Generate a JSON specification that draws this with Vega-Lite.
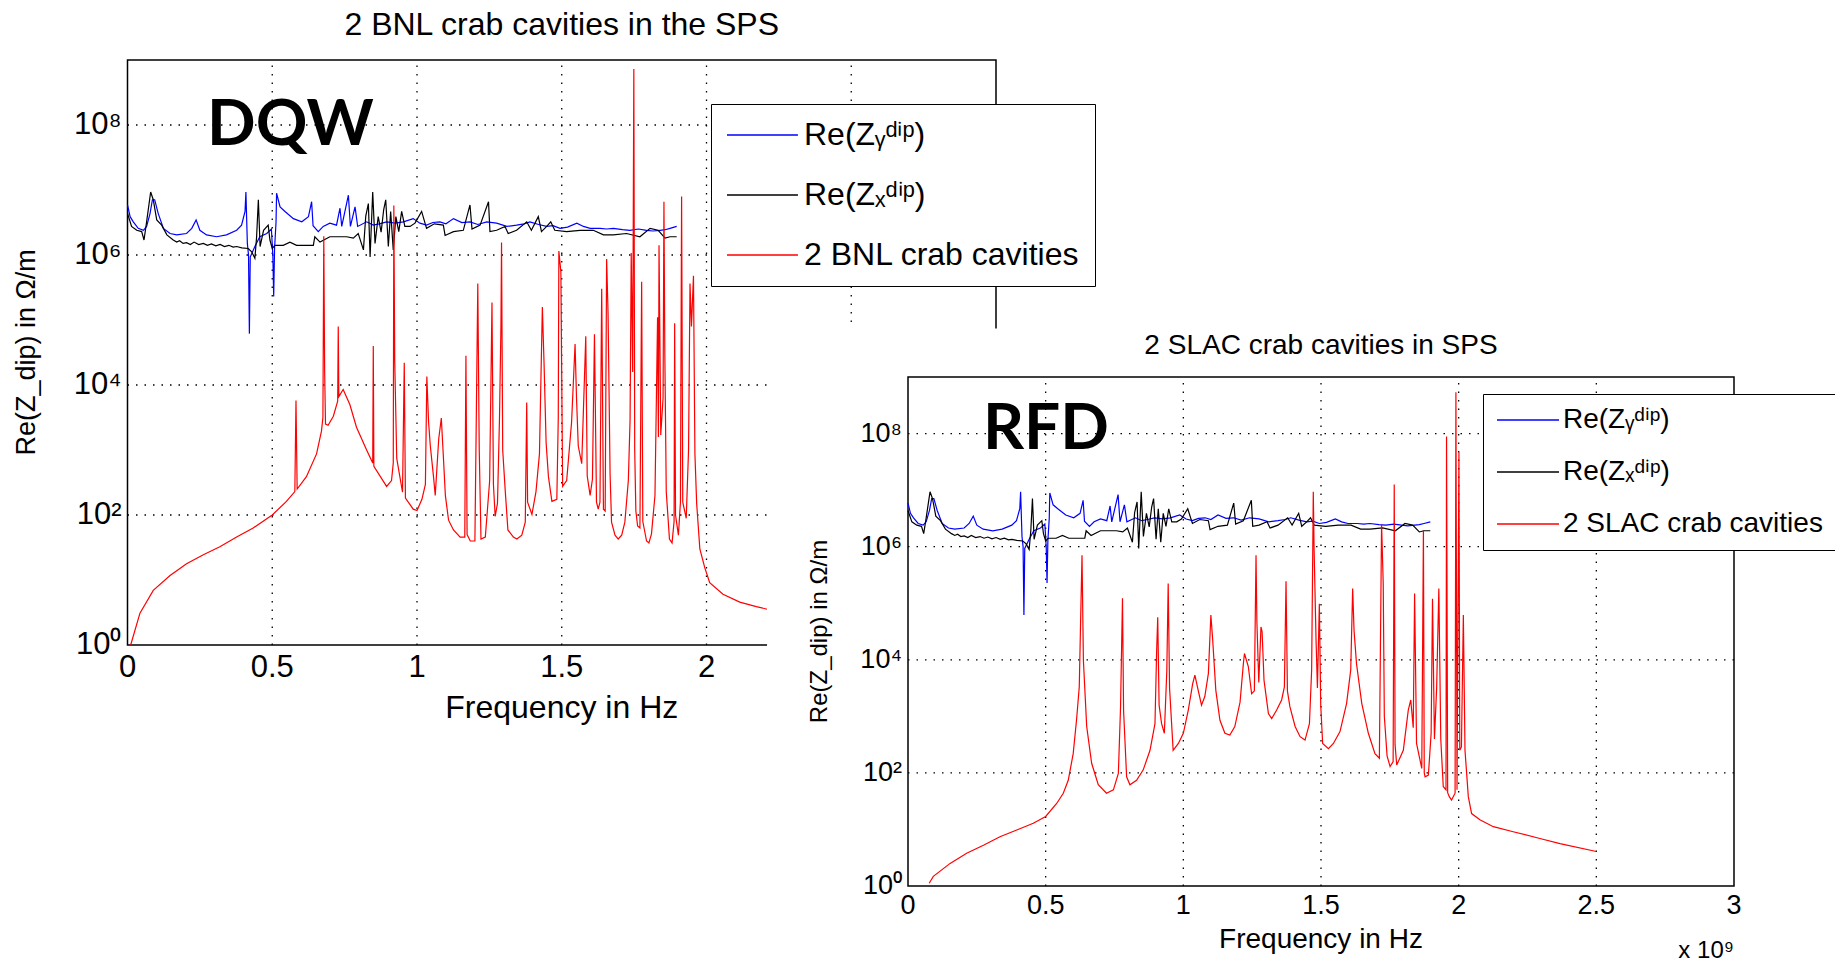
{
"$schema": "https://vega.github.io/schema/vega-lite/v6.json",
"width": 1835, "height": 964,
"autosize": {"type": "none"},
"padding": 0,
"background": "white",
"config": {"view": {"stroke": null}, "font": "Liberation Sans"},
"datasets": {
"xgrid": [{"f": 0.5e9}, {"f": 1.0e9}, {"f": 1.5e9}, {"f": 2.0e9}, {"f": 2.5e9}],
"ygrid": [{"z": 100}, {"z": 1e4}, {"z": 1e6}, {"z": 1e8}],
"xticks": [{"f":0,"label":"0"},{"f":0.5e9,"label":"0.5"},{"f":1e9,"label":"1"},{"f":1.5e9,"label":"1.5"},{"f":2e9,"label":"2"},{"f":2.5e9,"label":"2.5"},{"f":3e9,"label":"3"}],
"yticks": [{"z":1,"label":"10⁰"},{"z":100,"label":"10²"},{"z":1e4,"label":"10⁴"},{"z":1e6,"label":"10⁶"},{"z":1e8,"label":"10⁸"}],
"zy": [
{"f":0,"z":5.89e6},{"f":0.009e9,"z":3.89e6},{"f":0.02e9,"z":3.24e6},{"f":0.037e9,"z":2.57e6},{"f":0.055e9,"z":2.40e6},{"f":0.066e9,"z":2.75e6},{"f":0.078e9,"z":4.37e6},{"f":0.086e9,"z":7.08e6},{"f":0.094e9,"z":7.08e6},{"f":0.106e9,"z":4.37e6},{"f":0.124e9,"z":2.57e6},{"f":0.147e9,"z":2.14e6},{"f":0.170e9,"z":2.04e6},{"f":0.204e9,"z":2.14e6},{"f":0.222e9,"z":2.57e6},{"f":0.237e9,"z":3.47e6},{"f":0.250e9,"z":2.40e6},{"f":0.273e9,"z":2.04e6},{"f":0.308e9,"z":1.91e6},{"f":0.342e9,"z":2.04e6},{"f":0.377e9,"z":2.40e6},{"f":0.394e9,"z":2.88e6},{"f":0.406e9,"z":4.68e6},{"f":0.409e9,"z":9.33e6},{"f":0.414e9,"z":1.51e6},{"f":0.418e9,"z":1.0e6},{"f":0.421e9,"z":6.17e4},{"f":0.424e9,"z":9.33e5},{"f":0.440e9,"z":1.35e6},{"f":0.457e9,"z":1.91e6},{"f":0.481e9,"z":2.14e6},{"f":0.497e9,"z":2.51e6},{"f":0.502e9,"z":1.0e6},{"f":0.505e9,"z":2.29e5},{"f":0.508e9,"z":1.26e6},{"f":0.513e9,"z":3.16e6},{"f":0.515e9,"z":8.91e6},{"f":0.527e9,"z":5.50e6},{"f":0.544e9,"z":4.68e6},{"f":0.573e9,"z":3.63e6},{"f":0.602e9,"z":3.24e6},{"f":0.625e9,"z":3.89e6},{"f":0.636e9,"z":6.61e6},{"f":0.641e9,"z":2.82e6},{"f":0.659e9,"z":2.29e6},{"f":0.676e9,"z":2.75e6},{"f":0.699e9,"z":3.09e6},{"f":0.722e9,"z":2.88e6},{"f":0.734e9,"z":5.25e6},{"f":0.740e9,"z":2.75e6},{"f":0.763e9,"z":8.32e6},{"f":0.770e9,"z":2.75e6},{"f":0.786e9,"z":5.50e6},{"f":0.795e9,"z":2.75e6},{"f":0.826e9,"z":3.24e6},{"f":0.849e9,"z":2.88e6},{"f":0.870e9,"z":3.02e6},{"f":0.895e9,"z":3.24e6},{"f":0.925e9,"z":3.09e6},{"f":0.953e9,"z":3.24e6},{"f":0.987e9,"z":3.63e6},{"f":1.010e9,"z":3.09e6},{"f":1.033e9,"z":2.88e6},{"f":1.055e9,"z":3.16e6},{"f":1.079e9,"z":3.24e6},{"f":1.100e9,"z":3.02e6},{"f":1.126e9,"z":3.63e6},{"f":1.155e9,"z":3.16e6},{"f":1.183e9,"z":3.24e6},{"f":1.210e9,"z":2.95e6},{"f":1.241e9,"z":3.24e6},{"f":1.275e9,"z":3.09e6},{"f":1.310e9,"z":2.75e6},{"f":1.344e9,"z":2.88e6},{"f":1.370e9,"z":3.02e6},{"f":1.390e9,"z":3.24e6},{"f":1.420e9,"z":2.95e6},{"f":1.448e9,"z":2.75e6},{"f":1.470e9,"z":2.82e6},{"f":1.494e9,"z":2.57e6},{"f":1.520e9,"z":2.69e6},{"f":1.552e9,"z":3.09e6},{"f":1.575e9,"z":2.75e6},{"f":1.598e9,"z":2.57e6},{"f":1.632e9,"z":2.57e6},{"f":1.655e9,"z":2.51e6},{"f":1.678e9,"z":2.57e6},{"f":1.710e9,"z":2.45e6},{"f":1.735e9,"z":2.40e6},{"f":1.765e9,"z":2.51e6},{"f":1.793e9,"z":2.40e6},{"f":1.815e9,"z":2.34e6},{"f":1.840e9,"z":2.40e6},{"f":1.857e9,"z":2.45e6},{"f":1.874e9,"z":2.57e6},{"f":1.897e9,"z":2.75e6}
],
"zx": [
{"f":0,"z":4.37e6},{"f":0.014e9,"z":2.75e6},{"f":0.032e9,"z":2.40e6},{"f":0.049e9,"z":2.29e6},{"f":0.057e9,"z":1.70e6},{"f":0.066e9,"z":3.24e6},{"f":0.080e9,"z":9.33e6},{"f":0.089e9,"z":7.08e6},{"f":0.101e9,"z":3.47e6},{"f":0.118e9,"z":2.88e6},{"f":0.136e9,"z":2.04e6},{"f":0.158e9,"z":1.70e6},{"f":0.170e9,"z":1.58e6},{"f":0.180e9,"z":1.66e6},{"f":0.192e9,"z":1.51e6},{"f":0.204e9,"z":1.55e6},{"f":0.217e9,"z":1.45e6},{"f":0.230e9,"z":1.58e6},{"f":0.246e9,"z":1.45e6},{"f":0.262e9,"z":1.51e6},{"f":0.276e9,"z":1.41e6},{"f":0.290e9,"z":1.48e6},{"f":0.305e9,"z":1.38e6},{"f":0.320e9,"z":1.45e6},{"f":0.335e9,"z":1.35e6},{"f":0.350e9,"z":1.41e6},{"f":0.365e9,"z":1.32e6},{"f":0.377e9,"z":1.35e6},{"f":0.395e9,"z":1.29e6},{"f":0.417e9,"z":1.26e6},{"f":0.429e9,"z":1.12e6},{"f":0.440e9,"z":8.91e5},{"f":0.446e9,"z":1.91e6},{"f":0.452e9,"z":7.08e6},{"f":0.458e9,"z":1.35e6},{"f":0.470e9,"z":2.40e6},{"f":0.486e9,"z":2.88e6},{"f":0.492e9,"z":1.70e6},{"f":0.500e9,"z":1.26e6},{"f":0.509e9,"z":1.41e6},{"f":0.538e9,"z":1.41e6},{"f":0.561e9,"z":1.58e6},{"f":0.584e9,"z":1.41e6},{"f":0.642e9,"z":1.41e6},{"f":0.647e9,"z":1.91e6},{"f":0.665e9,"z":1.58e6},{"f":0.699e9,"z":1.91e6},{"f":0.757e9,"z":1.91e6},{"f":0.780e9,"z":1.82e6},{"f":0.797e9,"z":2.14e6},{"f":0.815e9,"z":1.20e6},{"f":0.823e9,"z":3.98e6},{"f":0.832e9,"z":6.17e6},{"f":0.838e9,"z":9.33e5},{"f":0.847e9,"z":9.33e6},{"f":0.855e9,"z":1.51e6},{"f":0.866e9,"z":3.89e6},{"f":0.876e9,"z":2.24e6},{"f":0.885e9,"z":5.01e6},{"f":0.892e9,"z":7.08e6},{"f":0.901e9,"z":1.35e6},{"f":0.909e9,"z":4.68e6},{"f":0.918e9,"z":1.20e6},{"f":0.927e9,"z":3.89e6},{"f":0.937e9,"z":2.29e6},{"f":0.947e9,"z":4.68e6},{"f":0.958e9,"z":2.75e6},{"f":0.976e9,"z":2.75e6},{"f":0.993e9,"z":3.09e6},{"f":1.016e9,"z":4.68e6},{"f":1.033e9,"z":2.57e6},{"f":1.060e9,"z":3.02e6},{"f":1.091e9,"z":2.88e6},{"f":1.097e9,"z":2.00e6},{"f":1.126e9,"z":2.29e6},{"f":1.160e9,"z":2.40e6},{"f":1.183e9,"z":5.89e6},{"f":1.190e9,"z":2.51e6},{"f":1.218e9,"z":2.88e6},{"f":1.247e9,"z":6.61e6},{"f":1.252e9,"z":2.29e6},{"f":1.275e9,"z":2.40e6},{"f":1.304e9,"z":2.75e6},{"f":1.315e9,"z":2.14e6},{"f":1.344e9,"z":2.40e6},{"f":1.379e9,"z":3.24e6},{"f":1.395e9,"z":2.40e6},{"f":1.419e9,"z":3.89e6},{"f":1.430e9,"z":2.29e6},{"f":1.448e9,"z":2.75e6},{"f":1.462e9,"z":3.24e6},{"f":1.476e9,"z":2.40e6},{"f":1.517e9,"z":2.29e6},{"f":1.563e9,"z":2.40e6},{"f":1.609e9,"z":2.40e6},{"f":1.644e9,"z":2.04e6},{"f":1.678e9,"z":2.04e6},{"f":1.724e9,"z":2.14e6},{"f":1.770e9,"z":1.91e6},{"f":1.805e9,"z":2.57e6},{"f":1.833e9,"z":2.40e6},{"f":1.857e9,"z":1.82e6},{"f":1.874e9,"z":1.91e6},{"f":1.897e9,"z":1.91e6}
],
"bnl": [
{"f":0.011e9,"z":1.0},{"f":0.043e9,"z":3.09},{"f":0.089e9,"z":6.92},{"f":0.147e9,"z":11.7},{"f":0.204e9,"z":17.8},{"f":0.262e9,"z":24.5},{"f":0.319e9,"z":32.4},{"f":0.377e9,"z":45.7},{"f":0.434e9,"z":63.1},{"f":0.5e9,"z":100},{"f":0.549e9,"z":162},{"f":0.578e9,"z":229},{"f":0.582e9,"z":5750},{"f":0.586e9,"z":251},{"f":0.618e9,"z":389},{"f":0.653e9,"z":871},{"f":0.670e9,"z":1950},{"f":0.675e9,"z":3160},{"f":0.678e9,"z":1.95e6},{"f":0.681e9,"z":1.58e4},{"f":0.684e9,"z":2510},{"f":0.693e9,"z":2400},{"f":0.711e9,"z":3310},{"f":0.726e9,"z":5620},{"f":0.728e9,"z":7.94e4},{"f":0.730e9,"z":6610},{"f":0.745e9,"z":8510},{"f":0.768e9,"z":5010},{"f":0.791e9,"z":2240},{"f":0.826e9,"z":1000},{"f":0.847e9,"z":631},{"f":0.849e9,"z":3.98e4},{"f":0.851e9,"z":562},{"f":0.895e9,"z":275},{"f":0.912e9,"z":339},{"f":0.918e9,"z":631},{"f":0.920e9,"z":5.75e6},{"f":0.923e9,"z":2.45e4},{"f":0.930e9,"z":741},{"f":0.950e9,"z":224},{"f":0.956e9,"z":2.19e4},{"f":0.960e9,"z":182},{"f":0.987e9,"z":123},{"f":1.0e9,"z":117},{"f":1.017e9,"z":174},{"f":1.029e9,"z":295},{"f":1.034e9,"z":1.35e4},{"f":1.040e9,"z":2690},{"f":1.046e9,"z":1150},{"f":1.057e9,"z":389},{"f":1.063e9,"z":200},{"f":1.075e9,"z":1480},{"f":1.084e9,"z":3090},{"f":1.092e9,"z":661},{"f":1.098e9,"z":200},{"f":1.109e9,"z":83.2},{"f":1.126e9,"z":58.9},{"f":1.149e9,"z":45.7},{"f":1.165e9,"z":45.7},{"f":1.169e9,"z":2.82e4},{"f":1.173e9,"z":50.1},{"f":1.184e9,"z":39.8},{"f":1.200e9,"z":39.8},{"f":1.210e9,"z":3.63e5},{"f":1.215e9,"z":1000},{"f":1.221e9,"z":42.7},{"f":1.236e9,"z":45.7},{"f":1.251e9,"z":339},{"f":1.259e9,"z":1.86e5},{"f":1.264e9,"z":295},{"f":1.270e9,"z":95.5},{"f":1.278e9,"z":151},{"f":1.285e9,"z":3160},{"f":1.290e9,"z":8.32e4},{"f":1.292e9,"z":1.55e6},{"f":1.296e9,"z":1000},{"f":1.305e9,"z":229},{"f":1.314e9,"z":58.9},{"f":1.333e9,"z":45.7},{"f":1.345e9,"z":42.7},{"f":1.362e9,"z":49.0},{"f":1.374e9,"z":77.6},{"f":1.379e9,"z":5370},{"f":1.382e9,"z":158},{"f":1.397e9,"z":102},{"f":1.411e9,"z":229},{"f":1.423e9,"z":871},{"f":1.433e9,"z":1.58e5},{"f":1.439e9,"z":2.04e4},{"f":1.446e9,"z":1290},{"f":1.454e9,"z":389},{"f":1.466e9,"z":162},{"f":1.483e9,"z":174},{"f":1.488e9,"z":3160},{"f":1.490e9,"z":1.15e6},{"f":1.497e9,"z":5.50e5},{"f":1.503e9,"z":275},{"f":1.517e9,"z":339},{"f":1.534e9,"z":2690},{"f":1.546e9,"z":4.27e4},{"f":1.551e9,"z":6310},{"f":1.557e9,"z":1150},{"f":1.569e9,"z":617},{"f":1.583e9,"z":5.62e4},{"f":1.588e9,"z":398},{"f":1.598e9,"z":200},{"f":1.606e9,"z":355},{"f":1.613e9,"z":6.03e4},{"f":1.620e9,"z":158},{"f":1.626e9,"z":123},{"f":1.632e9,"z":158},{"f":1.638e9,"z":3.02e5},{"f":1.644e9,"z":123},{"f":1.650e9,"z":115},{"f":1.655e9,"z":8.71e5},{"f":1.660e9,"z":1.26e5},{"f":1.667e9,"z":417},{"f":1.672e9,"z":77.6},{"f":1.684e9,"z":49.0},{"f":1.695e9,"z":42.7},{"f":1.707e9,"z":49.0},{"f":1.718e9,"z":77.6},{"f":1.730e9,"z":339},{"f":1.736e9,"z":2880},{"f":1.740e9,"z":1.07e6},{"f":1.745e9,"z":1.58e4},{"f":1.749e9,"z":7.24e8},{"f":1.752e9,"z":1000},{"f":1.756e9,"z":115},{"f":1.762e9,"z":67.6},{"f":1.770e9,"z":63.1},{"f":1.776e9,"z":3.89e5},{"f":1.780e9,"z":79.4},{"f":1.793e9,"z":39.8},{"f":1.801e9,"z":37.2},{"f":1.810e9,"z":51.3},{"f":1.822e9,"z":200},{"f":1.831e9,"z":1.10e5},{"f":1.834e9,"z":1580},{"f":1.836e9,"z":1.41e6},{"f":1.842e9,"z":1700},{"f":1.850e9,"z":6310},{"f":1.853e9,"z":6.61e6},{"f":1.856e9,"z":3.16e4},{"f":1.861e9,"z":229},{"f":1.872e9,"z":42.7},{"f":1.881e9,"z":37.2},{"f":1.888e9,"z":79.4},{"f":1.890e9,"z":8.91e4},{"f":1.893e9,"z":100},{"f":1.903e9,"z":49.0},{"f":1.910e9,"z":158},{"f":1.914e9,"z":7.94e6},{"f":1.918e9,"z":158},{"f":1.930e9,"z":89.1},{"f":1.938e9,"z":1000},{"f":1.943e9,"z":3.63e5},{"f":1.948e9,"z":7.94e4},{"f":1.955e9,"z":4.79e5},{"f":1.960e9,"z":871},{"f":1.966e9,"z":151},{"f":1.977e9,"z":30.2},{"f":1.994e9,"z":15.5},{"f":2.011e9,"z":9.12},{"f":2.057e9,"z":6.03},{"f":2.115e9,"z":4.57},{"f":2.172e9,"z":3.89},{"f":2.21e9,"z":3.55},{"f":2.3e9,"z":3.16},{"f":2.5e9,"z":2.63}
],
"slac": [
{"f":0.077e9,"z":1.12},{"f":0.092e9,"z":1.48},{"f":0.153e9,"z":2.51},{"f":0.213e9,"z":3.80},{"f":0.274e9,"z":5.25},{"f":0.334e9,"z":7.41},{"f":0.395e9,"z":9.77},{"f":0.455e9,"z":12.9},{"f":0.5e9,"z":17.0},{"f":0.54e9,"z":28.8},{"f":0.564e9,"z":43.7},{"f":0.582e9,"z":74.1},{"f":0.600e9,"z":219},{"f":0.612e9,"z":851},{"f":0.622e9,"z":3310},{"f":0.627e9,"z":5.01e4},{"f":0.632e9,"z":7.08e5},{"f":0.637e9,"z":9770},{"f":0.649e9,"z":661},{"f":0.667e9,"z":148},{"f":0.691e9,"z":61.7},{"f":0.721e9,"z":43.7},{"f":0.746e9,"z":50.1},{"f":0.764e9,"z":97.7},{"f":0.772e9,"z":1480},{"f":0.779e9,"z":1.23e5},{"f":0.783e9,"z":1260},{"f":0.794e9,"z":85.1},{"f":0.806e9,"z":61.7},{"f":0.830e9,"z":74.1},{"f":0.854e9,"z":112},{"f":0.879e9,"z":251},{"f":0.897e9,"z":741},{"f":0.903e9,"z":1.38e4},{"f":0.907e9,"z":5.62e4},{"f":0.912e9,"z":1580},{"f":0.921e9,"z":741},{"f":0.931e9,"z":501},{"f":0.940e9,"z":6310},{"f":0.945e9,"z":2.24e5},{"f":0.950e9,"z":3160},{"f":0.963e9,"z":251},{"f":0.982e9,"z":331},{"f":1.0e9,"z":501},{"f":1.018e9,"z":1290},{"f":1.034e9,"z":3800},{"f":1.042e9,"z":5370},{"f":1.054e9,"z":2880},{"f":1.066e9,"z":1580},{"f":1.078e9,"z":2240},{"f":1.091e9,"z":5750},{"f":1.100e9,"z":6.17e4},{"f":1.106e9,"z":2.51e4},{"f":1.118e9,"z":2880},{"f":1.133e9,"z":851},{"f":1.151e9,"z":501},{"f":1.169e9,"z":468},{"f":1.187e9,"z":661},{"f":1.206e9,"z":1780},{"f":1.218e9,"z":8510},{"f":1.222e9,"z":1.29e4},{"f":1.236e9,"z":7590},{"f":1.248e9,"z":2510},{"f":1.258e9,"z":2820},{"f":1.264e9,"z":7.08e5},{"f":1.267e9,"z":5.01e4},{"f":1.274e9,"z":3980},{"f":1.282e9,"z":3.80e4},{"f":1.286e9,"z":3.16e4},{"f":1.293e9,"z":4370},{"f":1.309e9,"z":1120},{"f":1.321e9,"z":912},{"f":1.339e9,"z":1290},{"f":1.357e9,"z":1950},{"f":1.367e9,"z":3310},{"f":1.373e9,"z":2.45e5},{"f":1.378e9,"z":2820},{"f":1.387e9,"z":1480},{"f":1.406e9,"z":661},{"f":1.424e9,"z":437},{"f":1.442e9,"z":380},{"f":1.458e9,"z":741},{"f":1.466e9,"z":6610},{"f":1.472e9,"z":9.33e6},{"f":1.475e9,"z":8.71e5},{"f":1.482e9,"z":2.24e4},{"f":1.487e9,"z":3160},{"f":1.494e9,"z":9.77e4},{"f":1.499e9,"z":1580},{"f":1.506e9,"z":331},{"f":1.527e9,"z":269},{"f":1.545e9,"z":331},{"f":1.569e9,"z":537},{"f":1.593e9,"z":1700},{"f":1.608e9,"z":6610},{"f":1.615e9,"z":1.82e5},{"f":1.620e9,"z":3.31e4},{"f":1.629e9,"z":8510},{"f":1.648e9,"z":1700},{"f":1.672e9,"z":501},{"f":1.696e9,"z":219},{"f":1.712e9,"z":182},{"f":1.720e9,"z":2.51e6},{"f":1.726e9,"z":2.24e5},{"f":1.730e9,"z":1000},{"f":1.740e9,"z":200},{"f":1.751e9,"z":129},{"f":1.762e9,"z":158},{"f":1.766e9,"z":1.26e7},{"f":1.769e9,"z":316},{"f":1.775e9,"z":138},{"f":1.799e9,"z":251},{"f":1.817e9,"z":1290},{"f":1.826e9,"z":1950},{"f":1.835e9,"z":631},{"f":1.840e9,"z":1.48e5},{"f":1.847e9,"z":331},{"f":1.866e9,"z":120},{"f":1.872e9,"z":1.95e6},{"f":1.875e9,"z":100},{"f":1.878e9,"z":85.1},{"f":1.890e9,"z":91.2},{"f":1.900e9,"z":501},{"f":1.905e9,"z":1.20e5},{"f":1.912e9,"z":398},{"f":1.920e9,"z":3160},{"f":1.928e9,"z":1.82e5},{"f":1.935e9,"z":398},{"f":1.944e9,"z":57.5},{"f":1.954e9,"z":50.1},{"f":1.956e9,"z":8.91e7},{"f":1.960e9,"z":44.7},{"f":1.966e9,"z":38.0},{"f":1.974e9,"z":33.1},{"f":1.987e9,"z":43.7},{"f":1.990e9,"z":5.37e8},{"f":1.994e9,"z":50.1},{"f":2.001e9,"z":4.68e7},{"f":2.004e9,"z":251},{"f":2.010e9,"z":288},{"f":2.017e9,"z":6.17e4},{"f":2.023e9,"z":251},{"f":2.035e9,"z":38.0},{"f":2.047e9,"z":19.1},{"f":2.077e9,"z":14.8},{"f":2.126e9,"z":11.2},{"f":2.198e9,"z":9.12},{"f":2.295e9,"z":6.92},{"f":2.368e9,"z":5.62},{"f":2.5e9,"z":4.07}
]
},
"layer": [
{
"layer": [
{"data": {"name": "xgrid"}, "mark": {"type": "rule", "color": "black", "strokeDash": [1.5, 7], "strokeWidth": 1.3},
 "encoding": {"x": {"field": "f", "type": "quantitative", "scale": {"domain": [0, 3e9], "range": [127.5, 996], "nice": false, "zero": false}, "axis": null},
  "y": {"datum": 1, "type": "quantitative", "scale": {"type": "log", "domain": [1, 1e9], "range": [645, 60], "nice": false}, "axis": null}, "y2": {"datum": 1e9}}},
{"data": {"name": "ygrid"}, "mark": {"type": "rule", "color": "black", "strokeDash": [1.5, 7], "strokeWidth": 1.3},
 "encoding": {"y": {"field": "z", "type": "quantitative", "scale": {"type": "log", "domain": [1, 1e9], "range": [645, 60], "nice": false}, "axis": null},
  "x": {"datum": 0, "type": "quantitative", "scale": {"domain": [0, 3e9], "range": [127.5, 996], "nice": false, "zero": false}, "axis": null}, "x2": {"datum": 3e9}}},
{"data": {"values": [{}]}, "mark": {"type": "rect", "filled": false, "color": "black", "strokeWidth": 1.5},
 "encoding": {"x": {"datum": 0, "type": "quantitative", "scale": {"domain": [0, 3e9], "range": [127.5, 996], "nice": false, "zero": false}, "axis": null}, "x2": {"datum": 3e9},
  "y": {"datum": 1, "type": "quantitative", "scale": {"type": "log", "domain": [1, 1e9], "range": [645, 60], "nice": false}, "axis": null}, "y2": {"datum": 1e9}}},
{"data": {"name": "xticks"}, "transform": [{"filter": "datum.f <= 2e9"}], "mark": {"type": "text", "font": "Liberation Sans", "fontSize": 31, "align": "center", "baseline": "top", "dy": 8, "color": "black"},
 "encoding": {"text": {"field": "label"},
  "x": {"field": "f", "type": "quantitative", "scale": {"domain": [0, 3e9], "range": [127.5, 996], "nice": false, "zero": false}, "axis": null},
  "y": {"datum": 1, "type": "quantitative", "scale": {"type": "log", "domain": [1, 1e9], "range": [645, 60], "nice": false}, "axis": null}}},
{"data": {"name": "yticks"}, "mark": {"type": "text", "font": "Liberation Sans", "fontSize": 31, "align": "right", "baseline": "middle", "dx": -6, "color": "black"},
 "encoding": {"text": {"field": "label"},
  "y": {"field": "z", "type": "quantitative", "scale": {"type": "log", "domain": [1, 1e9], "range": [645, 60], "nice": false}, "axis": null},
  "x": {"datum": 0, "type": "quantitative", "scale": {"domain": [0, 3e9], "range": [127.5, 996], "nice": false, "zero": false}, "axis": null}}},
{"data": {"values": [{"label": "Frequency in Hz"}]}, "mark": {"type": "text", "font": "Liberation Sans", "fontSize": 32, "align": "center", "baseline": "middle", "dy": 63, "color": "black"},
 "encoding": {"text": {"field": "label"},
  "x": {"datum": 1.5e9, "type": "quantitative", "scale": {"domain": [0, 3e9], "range": [127.5, 996], "nice": false, "zero": false}, "axis": null},
  "y": {"datum": 1, "type": "quantitative", "scale": {"type": "log", "domain": [1, 1e9], "range": [645, 60], "nice": false}, "axis": null}}},
{"data": {"values": [{"label": "Re(Z_dip) in Ω/m"}]}, "mark": {"type": "text", "font": "Liberation Sans", "fontSize": 27, "align": "center", "baseline": "middle", "angle": 270, "dy": -101, "color": "black"},
 "encoding": {"text": {"field": "label"},
  "x": {"datum": 0, "type": "quantitative", "scale": {"domain": [0, 3e9], "range": [127.5, 996], "nice": false, "zero": false}, "axis": null},
  "y": {"datum": 31623, "type": "quantitative", "scale": {"type": "log", "domain": [1, 1e9], "range": [645, 60], "nice": false}, "axis": null}}},
{"data": {"name": "zy"}, "mark": {"type": "line", "strokeWidth": 1.2},
 "encoding": {
  "x": {"field": "f", "type": "quantitative", "scale": {"domain": [0, 3e9], "range": [127.5, 996], "nice": false, "zero": false}, "axis": null},
  "y": {"field": "z", "type": "quantitative", "scale": {"type": "log", "domain": [1, 1e9], "range": [645, 60], "nice": false}, "axis": null},
  "color": {"datum": "Re(Zᵧᵈⁱᵖ)", "type": "nominal", "scale": {"domain": ["Re(Zᵧᵈⁱᵖ)", "Re(Zₓᵈⁱᵖ)", "2 BNL crab cavities"], "range": ["#0000ff", "#000000", "#ff0000"]},
   "legend": {"orient": "none", "legendX": 711, "legendY": 104, "title": null, "symbolType": "M-1,0H3.73", "symbolSize": 900, "symbolStrokeWidth": 1.5, "labelFont": "Liberation Sans", "labelFontSize": 32, "labelColor": "black", "labelLimit": 600, "labelOffset": 46, "padding": 15, "rowPadding": 28, "strokeColor": "black", "fillColor": "white"}}
 }},
{"data": {"name": "zx"}, "mark": {"type": "line", "strokeWidth": 1.2},
 "encoding": {
  "x": {"field": "f", "type": "quantitative", "scale": {"domain": [0, 3e9], "range": [127.5, 996], "nice": false, "zero": false}, "axis": null},
  "y": {"field": "z", "type": "quantitative", "scale": {"type": "log", "domain": [1, 1e9], "range": [645, 60], "nice": false}, "axis": null},
  "color": {"datum": "Re(Zₓᵈⁱᵖ)", "type": "nominal", "legend": null}}},
{"data": {"name": "bnl"}, "mark": {"type": "line", "strokeWidth": 1.2},
 "encoding": {
  "x": {"field": "f", "type": "quantitative", "scale": {"domain": [0, 3e9], "range": [127.5, 996], "nice": false, "zero": false}, "axis": null},
  "y": {"field": "z", "type": "quantitative", "scale": {"type": "log", "domain": [1, 1e9], "range": [645, 60], "nice": false}, "axis": null},
  "color": {"datum": "2 BNL crab cavities", "type": "nominal", "legend": null}}},
{"data": {"values": [{"label": "DQW"}]}, "mark": {"type": "text", "font": "Lato", "fontWeight": "bold", "fontSize": 64, "align": "left", "baseline": "middle", "color": "black"},
 "encoding": {"text": {"field": "label"},
  "x": {"datum": 0.275e9, "type": "quantitative", "scale": {"domain": [0, 3e9], "range": [127.5, 996], "nice": false, "zero": false}, "axis": null},
  "y": {"datum": 9.7e7, "type": "quantitative", "scale": {"type": "log", "domain": [1, 1e9], "range": [645, 60], "nice": false}, "axis": null}}},
{"data": {"values": [{"label": "2 BNL crab cavities in the SPS"}]}, "mark": {"type": "text", "font": "Liberation Sans", "fontSize": 32, "align": "center", "baseline": "middle", "color": "black", "dy": -35},
 "encoding": {"text": {"field": "label"},
  "x": {"datum": 1.5e9, "type": "quantitative", "scale": {"domain": [0, 3e9], "range": [127.5, 996], "nice": false, "zero": false}, "axis": null},
  "y": {"datum": 1e9, "type": "quantitative", "scale": {"type": "log", "domain": [1, 1e9], "range": [645, 60], "nice": false}, "axis": null}}}
]
},
{
"layer": [
{"data": {"values": [{}]}, "mark": {"type": "rect", "color": "white", "strokeWidth": 0},
 "encoding": {"x": {"datum": -0.512e9, "type": "quantitative", "scale": {"domain": [0, 3e9], "range": [908, 1734], "nice": false, "zero": false}, "axis": null}, "x2": {"datum": 3.45e9},
  "y": {"datum": 0.02, "type": "quantitative", "scale": {"type": "log", "domain": [1, 1e9], "range": [886, 377], "nice": false}, "axis": null}, "y2": {"datum": 7.2e9}}},
{"data": {"name": "xgrid"}, "mark": {"type": "rule", "color": "black", "strokeDash": [1.5, 7], "strokeWidth": 1.3},
 "encoding": {"x": {"field": "f", "type": "quantitative", "scale": {"domain": [0, 3e9], "range": [908, 1734], "nice": false, "zero": false}, "axis": null},
  "y": {"datum": 1, "type": "quantitative", "scale": {"type": "log", "domain": [1, 1e9], "range": [886, 377], "nice": false}, "axis": null}, "y2": {"datum": 1e9}}},
{"data": {"name": "ygrid"}, "mark": {"type": "rule", "color": "black", "strokeDash": [1.5, 7], "strokeWidth": 1.3},
 "encoding": {"y": {"field": "z", "type": "quantitative", "scale": {"type": "log", "domain": [1, 1e9], "range": [886, 377], "nice": false}, "axis": null},
  "x": {"datum": 0, "type": "quantitative", "scale": {"domain": [0, 3e9], "range": [908, 1734], "nice": false, "zero": false}, "axis": null}, "x2": {"datum": 3e9}}},
{"data": {"values": [{}]}, "mark": {"type": "rect", "filled": false, "color": "black", "strokeWidth": 1.5},
 "encoding": {"x": {"datum": 0, "type": "quantitative", "scale": {"domain": [0, 3e9], "range": [908, 1734], "nice": false, "zero": false}, "axis": null}, "x2": {"datum": 3e9},
  "y": {"datum": 1, "type": "quantitative", "scale": {"type": "log", "domain": [1, 1e9], "range": [886, 377], "nice": false}, "axis": null}, "y2": {"datum": 1e9}}},
{"data": {"name": "xticks"}, "mark": {"type": "text", "font": "Liberation Sans", "fontSize": 27, "align": "center", "baseline": "top", "dy": 7, "color": "black"},
 "encoding": {"text": {"field": "label"},
  "x": {"field": "f", "type": "quantitative", "scale": {"domain": [0, 3e9], "range": [908, 1734], "nice": false, "zero": false}, "axis": null},
  "y": {"datum": 1, "type": "quantitative", "scale": {"type": "log", "domain": [1, 1e9], "range": [886, 377], "nice": false}, "axis": null}}},
{"data": {"name": "yticks"}, "mark": {"type": "text", "font": "Liberation Sans", "fontSize": 27, "align": "right", "baseline": "middle", "dx": -6, "color": "black"},
 "encoding": {"text": {"field": "label"},
  "y": {"field": "z", "type": "quantitative", "scale": {"type": "log", "domain": [1, 1e9], "range": [886, 377], "nice": false}, "axis": null},
  "x": {"datum": 0, "type": "quantitative", "scale": {"domain": [0, 3e9], "range": [908, 1734], "nice": false, "zero": false}, "axis": null}}},
{"data": {"values": [{"label": "Frequency in Hz"}]}, "mark": {"type": "text", "font": "Liberation Sans", "fontSize": 28, "align": "center", "baseline": "middle", "dy": 54, "color": "black"},
 "encoding": {"text": {"field": "label"},
  "x": {"datum": 1.5e9, "type": "quantitative", "scale": {"domain": [0, 3e9], "range": [908, 1734], "nice": false, "zero": false}, "axis": null},
  "y": {"datum": 1, "type": "quantitative", "scale": {"type": "log", "domain": [1, 1e9], "range": [886, 377], "nice": false}, "axis": null}}},
{"data": {"values": [{"label": "Re(Z_dip) in Ω/m"}]}, "mark": {"type": "text", "font": "Liberation Sans", "fontSize": 24, "align": "center", "baseline": "middle", "angle": 270, "dy": -88, "color": "black"},
 "encoding": {"text": {"field": "label"},
  "x": {"datum": 0, "type": "quantitative", "scale": {"domain": [0, 3e9], "range": [908, 1734], "nice": false, "zero": false}, "axis": null},
  "y": {"datum": 31623, "type": "quantitative", "scale": {"type": "log", "domain": [1, 1e9], "range": [886, 377], "nice": false}, "axis": null}}},
{"data": {"name": "zy"}, "mark": {"type": "line", "strokeWidth": 1.2},
 "encoding": {
  "x": {"field": "f", "type": "quantitative", "scale": {"domain": [0, 3e9], "range": [908, 1734], "nice": false, "zero": false}, "axis": null},
  "y": {"field": "z", "type": "quantitative", "scale": {"type": "log", "domain": [1, 1e9], "range": [886, 377], "nice": false}, "axis": null},
  "color": {"datum": "Re(Zᵧᵈⁱᵖ)", "type": "nominal", "scale": {"domain": ["Re(Zᵧᵈⁱᵖ)", "Re(Zₓᵈⁱᵖ)", "2 SLAC crab cavities"], "range": ["#0000ff", "#000000", "#ff0000"]},
   "legend": {"orient": "none", "legendX": 1483, "legendY": 394, "title": null, "symbolType": "M-1,0H4.17", "symbolSize": 576, "symbolStrokeWidth": 1.5, "labelFont": "Liberation Sans", "labelFontSize": 28, "labelColor": "black", "labelLimit": 600, "labelOffset": 40, "padding": 12, "rowPadding": 24, "strokeColor": "black", "fillColor": "white"}}
 }},
{"data": {"name": "zx"}, "mark": {"type": "line", "strokeWidth": 1.2},
 "encoding": {
  "x": {"field": "f", "type": "quantitative", "scale": {"domain": [0, 3e9], "range": [908, 1734], "nice": false, "zero": false}, "axis": null},
  "y": {"field": "z", "type": "quantitative", "scale": {"type": "log", "domain": [1, 1e9], "range": [886, 377], "nice": false}, "axis": null},
  "color": {"datum": "Re(Zₓᵈⁱᵖ)", "type": "nominal", "legend": null}}},
{"data": {"name": "slac"}, "mark": {"type": "line", "strokeWidth": 1.2},
 "encoding": {
  "x": {"field": "f", "type": "quantitative", "scale": {"domain": [0, 3e9], "range": [908, 1734], "nice": false, "zero": false}, "axis": null},
  "y": {"field": "z", "type": "quantitative", "scale": {"type": "log", "domain": [1, 1e9], "range": [886, 377], "nice": false}, "axis": null},
  "color": {"datum": "2 SLAC crab cavities", "type": "nominal", "legend": null}}},
{"data": {"values": [{"label": "RFD"}]}, "mark": {"type": "text", "font": "Lato", "fontWeight": "bold", "fontSize": 64, "align": "left", "baseline": "middle", "color": "black"},
 "encoding": {"text": {"field": "label"},
  "x": {"datum": 0.272e9, "type": "quantitative", "scale": {"domain": [0, 3e9], "range": [908, 1734], "nice": false, "zero": false}, "axis": null},
  "y": {"datum": 1.15e8, "type": "quantitative", "scale": {"type": "log", "domain": [1, 1e9], "range": [886, 377], "nice": false}, "axis": null}}},
{"data": {"values": [{"label": "2 SLAC crab cavities in SPS"}]}, "mark": {"type": "text", "font": "Liberation Sans", "fontSize": 28, "align": "center", "baseline": "middle", "color": "black", "dy": -31},
 "encoding": {"text": {"field": "label"},
  "x": {"datum": 1.5e9, "type": "quantitative", "scale": {"domain": [0, 3e9], "range": [908, 1734], "nice": false, "zero": false}, "axis": null},
  "y": {"datum": 1e9, "type": "quantitative", "scale": {"type": "log", "domain": [1, 1e9], "range": [886, 377], "nice": false}, "axis": null}}},
{"data": {"values": [{"label": "x 10⁹"}]}, "mark": {"type": "text", "font": "Liberation Sans", "fontSize": 24, "align": "right", "baseline": "middle", "color": "black", "dy": 65},
 "encoding": {"text": {"field": "label"},
  "x": {"datum": 3e9, "type": "quantitative", "scale": {"domain": [0, 3e9], "range": [908, 1734], "nice": false, "zero": false}, "axis": null},
  "y": {"datum": 1, "type": "quantitative", "scale": {"type": "log", "domain": [1, 1e9], "range": [886, 377], "nice": false}, "axis": null}}}
]
}
],
"resolve": {"scale": {"x": "independent", "y": "independent", "color": "independent"}, "legend": {"color": "independent"}}
}
